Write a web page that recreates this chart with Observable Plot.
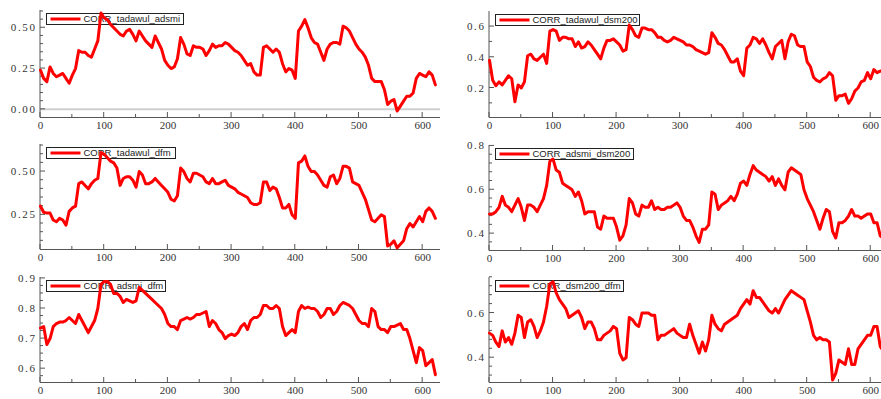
<!DOCTYPE html>
<html>
<head>
<meta charset="utf-8">
<script src="https://cdn.jsdelivr.net/npm/d3@7"></script>
<script src="https://cdn.jsdelivr.net/npm/@observablehq/plot@0.6"></script>
<style>
html, body { margin: 0; padding: 0; background: #fff; overflow: hidden; }
#wrap { position: relative; width: 881px; height: 399px; overflow: hidden; background: #fff; }
.panel { position: absolute; }
g[aria-label="y-axis tick label"] text { letter-spacing: 1.6px; }
</style>
</head>
<body>
<div id="wrap"></div>
<script>
// observation spacing of the sampled values (every 5th observation)
const step = 5;

const tadawulAdsmi = [
  0.24,0.19,0.17,0.26,0.22,0.20,0.21,0.22,0.19,0.16,
  0.21,0.25,0.36,0.35,0.35,0.33,0.32,0.37,0.42,0.59,
  0.56,0.55,0.52,0.50,0.48,0.46,0.45,0.48,0.49,0.46,
  0.42,0.48,0.45,0.42,0.40,0.38,0.45,0.41,0.37,0.30,
  0.27,0.25,0.26,0.31,0.44,0.40,0.34,0.33,0.39,0.38,
  0.38,0.37,0.33,0.36,0.40,0.38,0.39,0.39,0.41,0.40,
  0.38,0.36,0.35,0.33,0.30,0.27,0.28,0.23,0.21,0.21,
  0.38,0.39,0.37,0.35,0.37,0.35,0.28,0.23,0.25,0.24,
  0.19,0.48,0.51,0.55,0.50,0.44,0.41,0.40,0.35,0.30,
  0.37,0.40,0.41,0.41,0.40,0.51,0.50,0.48,0.44,0.40,
  0.37,0.35,0.32,0.27,0.19,0.17,0.17,0.17,0.12,0.03,
  0.05,0.06,-0.01,0.02,0.05,0.08,0.08,0.10,0.19,0.22,
  0.21,0.20,0.23,0.21,0.15
];
const tadawulDsm200 = [
  0.38,0.25,0.215,0.24,0.22,0.25,0.28,0.26,0.11,0.22,
  0.20,0.24,0.41,0.42,0.39,0.38,0.40,0.42,0.36,0.57,
  0.58,0.57,0.51,0.53,0.53,0.52,0.52,0.47,0.50,0.46,
  0.47,0.50,0.48,0.45,0.42,0.39,0.46,0.51,0.51,0.52,
  0.50,0.48,0.44,0.45,0.61,0.58,0.54,0.53,0.59,0.59,
  0.58,0.58,0.56,0.53,0.53,0.51,0.50,0.51,0.53,0.52,
  0.51,0.50,0.48,0.48,0.47,0.45,0.44,0.43,0.42,0.43,
  0.56,0.53,0.49,0.48,0.45,0.41,0.37,0.37,0.39,0.31,
  0.28,0.46,0.48,0.53,0.52,0.49,0.52,0.48,0.43,0.39,
  0.47,0.49,0.51,0.39,0.50,0.55,0.54,0.48,0.47,0.47,
  0.37,0.34,0.27,0.25,0.24,0.26,0.27,0.30,0.28,0.12,
  0.15,0.15,0.16,0.10,0.13,0.18,0.20,0.24,0.25,0.30,
  0.26,0.32,0.30,0.31,0.31
];
const tadawulDfm = [
  0.30,0.265,0.26,0.26,0.22,0.21,0.23,0.22,0.19,0.27,
  0.29,0.30,0.43,0.44,0.42,0.40,0.43,0.45,0.46,0.61,
  0.60,0.58,0.56,0.55,0.52,0.42,0.46,0.47,0.47,0.45,
  0.41,0.50,0.48,0.43,0.43,0.44,0.46,0.44,0.42,0.40,
  0.38,0.34,0.33,0.36,0.52,0.50,0.46,0.44,0.49,0.49,
  0.48,0.47,0.44,0.43,0.46,0.43,0.43,0.44,0.45,0.42,
  0.41,0.40,0.38,0.37,0.36,0.35,0.32,0.31,0.31,0.32,
  0.44,0.44,0.39,0.41,0.40,0.35,0.29,0.29,0.31,0.25,
  0.23,0.55,0.56,0.59,0.53,0.50,0.50,0.48,0.45,0.42,
  0.41,0.47,0.48,0.43,0.46,0.53,0.53,0.52,0.44,0.43,
  0.42,0.38,0.34,0.28,0.22,0.21,0.23,0.25,0.24,0.07,
  0.08,0.10,0.06,0.08,0.10,0.17,0.20,0.18,0.21,0.24,
  0.21,0.27,0.29,0.27,0.23
];
const adsmiDsm200 = [
  0.49,0.49,0.50,0.52,0.57,0.53,0.52,0.50,0.53,0.56,
  0.52,0.46,0.53,0.53,0.52,0.50,0.53,0.56,0.62,0.73,
  0.74,0.69,0.68,0.63,0.62,0.61,0.60,0.57,0.59,0.55,
  0.49,0.50,0.50,0.50,0.43,0.42,0.48,0.47,0.47,0.47,
  0.43,0.37,0.39,0.44,0.56,0.54,0.49,0.48,0.53,0.52,
  0.52,0.55,0.51,0.52,0.51,0.51,0.52,0.52,0.53,0.54,
  0.52,0.48,0.46,0.46,0.43,0.39,0.36,0.42,0.42,0.44,
  0.59,0.58,0.51,0.53,0.54,0.55,0.57,0.55,0.58,0.63,
  0.64,0.62,0.67,0.71,0.69,0.68,0.67,0.66,0.64,0.66,
  0.62,0.65,0.62,0.60,0.68,0.70,0.69,0.68,0.67,0.60,
  0.56,0.53,0.50,0.46,0.42,0.47,0.51,0.50,0.41,0.38,
  0.45,0.45,0.46,0.48,0.51,0.48,0.48,0.47,0.48,0.49,
  0.49,0.45,0.45,0.39,0.38
];
const adsmiDfm = [
  0.735,0.74,0.68,0.70,0.74,0.75,0.755,0.755,0.76,0.77,
  0.76,0.75,0.78,0.76,0.74,0.72,0.74,0.76,0.80,0.88,
  0.89,0.89,0.88,0.85,0.85,0.84,0.82,0.83,0.825,0.82,
  0.825,0.87,0.86,0.85,0.84,0.83,0.82,0.81,0.80,0.78,
  0.75,0.74,0.74,0.73,0.76,0.765,0.77,0.765,0.77,0.78,
  0.78,0.785,0.79,0.74,0.76,0.75,0.73,0.72,0.70,0.71,
  0.715,0.71,0.72,0.74,0.75,0.73,0.76,0.77,0.77,0.78,
  0.81,0.81,0.80,0.80,0.81,0.80,0.74,0.71,0.72,0.73,
  0.72,0.79,0.81,0.80,0.805,0.80,0.80,0.79,0.77,0.78,
  0.80,0.80,0.78,0.79,0.81,0.82,0.815,0.81,0.80,0.78,
  0.76,0.75,0.75,0.74,0.80,0.79,0.74,0.73,0.73,0.72,
  0.74,0.74,0.745,0.75,0.73,0.73,0.70,0.66,0.62,0.67,
  0.66,0.61,0.62,0.63,0.58
];
const dsm200Dfm = [
  0.51,0.50,0.47,0.45,0.52,0.47,0.49,0.46,0.51,0.59,
  0.58,0.49,0.56,0.57,0.54,0.49,0.52,0.56,0.63,0.73,
  0.74,0.69,0.66,0.64,0.62,0.58,0.59,0.60,0.61,0.58,
  0.53,0.56,0.56,0.53,0.48,0.48,0.50,0.51,0.52,0.54,
  0.53,0.42,0.39,0.40,0.58,0.57,0.55,0.54,0.60,0.60,
  0.60,0.59,0.59,0.48,0.50,0.50,0.51,0.52,0.53,0.51,
  0.50,0.49,0.49,0.55,0.50,0.46,0.42,0.47,0.43,0.48,
  0.59,0.55,0.53,0.52,0.55,0.56,0.57,0.58,0.59,0.62,
  0.64,0.66,0.64,0.70,0.67,0.67,0.65,0.63,0.61,0.60,
  0.62,0.60,0.63,0.66,0.68,0.70,0.69,0.68,0.67,0.66,
  0.61,0.56,0.50,0.48,0.49,0.48,0.48,0.47,0.30,0.33,
  0.39,0.38,0.37,0.44,0.37,0.37,0.44,0.46,0.48,0.50,
  0.50,0.54,0.54,0.45,0.43
];

const xTicks = [0, 100, 200, 300, 400, 500, 600];
const xMinorTicks = [50, 150, 250, 350, 450, 550];

const seriesNames = ["CORR_tadawul_adsmi", "CORR_tadawul_dsm200", "CORR_tadawul_dfm",
                     "CORR_adsmi_dsm200", "CORR_adsmi_dfm", "CORR_dsm200_dfm"];
const seriesValues = [tadawulAdsmi, tadawulDsm200, tadawulDfm, adsmiDsm200, adsmiDfm, dsm200Dfm];
const yTicks = [
  [0, 0.25, 0.5], [0.2, 0.4, 0.6], [0.25, 0.5],
  [0.4, 0.6, 0.8], [0.6, 0.7, 0.8, 0.9], [0.4, 0.6]
];
const yMinorTicks = [
  [0.05, 0.10, 0.15, 0.20, 0.30, 0.35, 0.40, 0.45, 0.55, 0.60],
  [0.1, 0.3, 0.5],
  [0.10, 0.15, 0.20, 0.30, 0.35, 0.40, 0.45, 0.55, 0.60, 0.65],
  [0.36, 0.44, 0.48, 0.52, 0.56, 0.64, 0.68, 0.72, 0.76],
  [0.575, 0.625, 0.65, 0.675, 0.725, 0.75, 0.775, 0.825, 0.85, 0.875],
  [0.32, 0.36, 0.44, 0.48, 0.52, 0.56, 0.64, 0.68, 0.72, 0.76]
];
const yFormats = [".2f", ".1f", ".2f", ".1f", ".1f", ".1f"];

// layout (positions / sizes)
const layout = [
  {left: 0,   top: 0,   width: 440, height: 135, ml: 40, mt: 10, mb: 18, yDomain: [-0.05, 0.606], legendW: 137, zero: true},
  {left: 440, top: 0,   width: 448, height: 135, ml: 49, mt: 11, mb: 18, yDomain: [0.008, 0.698], legendW: 144},
  {left: 0,   top: 135, width: 440, height: 130, ml: 40, mt: 9,  mb: 16, yDomain: [0.05, 0.656],  legendW: 129},
  {left: 440, top: 135, width: 448, height: 130, ml: 49, mt: 10, mb: 15, yDomain: [0.323, 0.802], legendW: 138},
  {left: 0,   top: 265, width: 440, height: 134, ml: 40, mt: 12, mb: 17, yDomain: [0.554, 0.903], legendW: 119},
  {left: 440, top: 265, width: 448, height: 134, ml: 49, mt: 12, mb: 17, yDomain: [0.289, 0.759], legendW: 128}
];
const xDomain = [0, 628];

function axisFrame(major, minor) {
  return (index, scales, values, dims) => {
    const {x, y} = scales;
    const x0 = dims.marginLeft;
    const x1 = dims.width - dims.marginRight;
    const y0 = dims.height - dims.marginBottom;
    const yt = dims.marginTop;
    const g = d3.create("svg:g").attr("stroke", "#555").attr("stroke-width", 1).attr("fill", "none");
    g.append("line").attr("x1", x0).attr("x2", x0).attr("y1", yt).attr("y2", y0 + 0.5);
    g.append("line").attr("x1", x0).attr("x2", x1).attr("y1", y0 + 0.5).attr("y2", y0 + 0.5);
    for (const v of major) g.append("line").attr("x1", x0).attr("x2", x0 + 5).attr("y1", y(v)).attr("y2", y(v));
    for (const v of minor) g.append("line").attr("x1", x0).attr("x2", x0 + 3).attr("y1", y(v)).attr("y2", y(v));
    for (const t of xTicks) g.append("line").attr("x1", x(t)).attr("x2", x(t)).attr("y1", y0).attr("y2", y0 - 5);
    for (const t of xMinorTicks) g.append("line").attr("x1", x(t)).attr("x2", x(t)).attr("y1", y0).attr("y2", y0 - 3);
    return g.node();
  };
}

function legend(name, w) {
  return (index, scales, values, dims) => {
    const bx = dims.marginLeft + 6.5, by = dims.marginTop + 3.5;
    const g = d3.create("svg:g");
    g.append("rect").attr("x", bx).attr("y", by).attr("width", w).attr("height", 11)
      .attr("fill", "#fff").attr("stroke", "#222").attr("stroke-width", 1);
    g.append("line").attr("x1", bx + 4).attr("x2", bx + 34).attr("y1", by + 5.5).attr("y2", by + 5.5)
      .attr("stroke", "#ff0000").attr("stroke-width", 3);
    g.append("text").attr("x", bx + 37).attr("y", by + 5.5).attr("dy", "0.36em")
      .attr("text-anchor", "start")
      .attr("font-family", "'Liberation Sans', Arial, sans-serif").attr("font-size", 9.5)
      .attr("fill", "#222").text(name);
    return g.node();
  };
}

const wrap = document.getElementById("wrap");
seriesValues.forEach((vals, k) => {
  const L = layout[k];
  const data = vals.map((v, i) => ({t: i * step, v}));
  const chart = Plot.plot({
    width: L.width,
    height: L.height,
    marginLeft: L.ml, marginRight: 0, marginTop: L.mt, marginBottom: L.mb,
    x: {domain: xDomain, label: null},
    y: {domain: L.yDomain, label: null},
    style: {
      fontFamily: "'Liberation Serif', 'Times New Roman', serif",
      fontSize: "11px", color: "#333", background: "transparent",
      maxWidth: "none", overflow: "visible"
    },
    marks: [
      L.zero ? Plot.ruleY([0], {stroke: "#cfcfcf", strokeWidth: 2}) : null,
      Plot.axisX({ticks: xTicks, tickSize: 0, tickPadding: 4, label: null, tickFormat: d => String(d)}),
      Plot.axisY({ticks: yTicks[k], tickSize: 0, tickPadding: 4, label: null, tickFormat: d3.format(yFormats[k])}),
      axisFrame(yTicks[k], yMinorTicks[k]),
      legend(seriesNames[k], L.legendW),
      Plot.line(data, {x: "t", y: "v", stroke: "#ff0000", strokeWidth: 3, strokeLinejoin: "round"})
    ]
  });
  const div = document.createElement("div");
  div.className = "panel";
  div.style.left = L.left + "px";
  div.style.top = L.top + "px";
  div.style.width = L.width + "px";
  div.style.height = L.height + "px";
  div.appendChild(chart);
  wrap.appendChild(div);
});
</script>
</body>
</html>
